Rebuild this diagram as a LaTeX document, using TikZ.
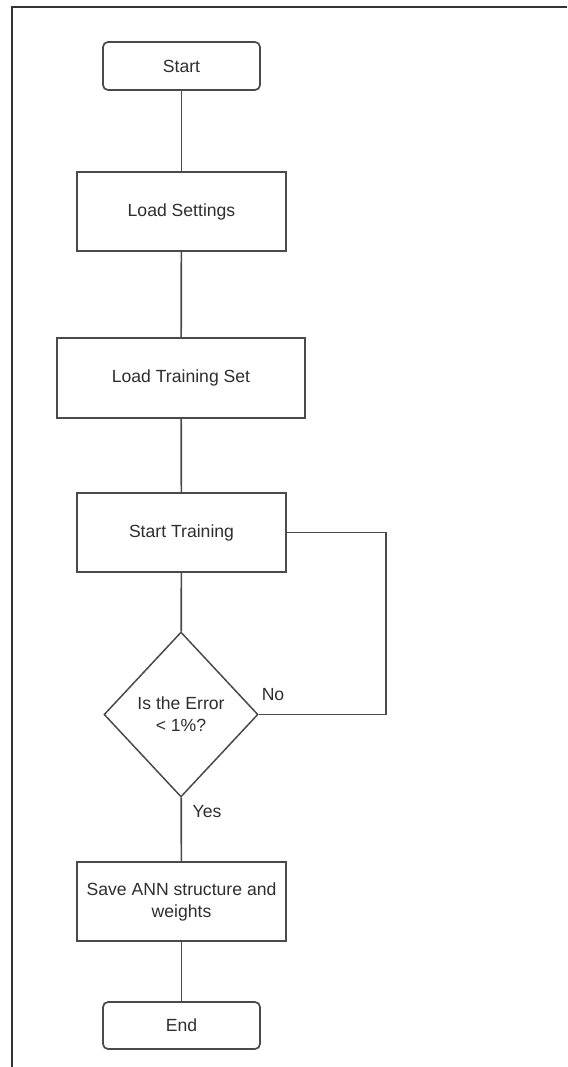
\documentclass[tikz,border=0pt]{standalone}
\usepackage{fontspec}
\setmainfont{Liberation Sans}
\usetikzlibrary{shapes.geometric}
\definecolor{lnc}{HTML}{4A4A4A}
\definecolor{txc}{HTML}{2E2E2E}
\begin{document}
\begin{tikzpicture}[x=1pt,y=-1pt,
  every node/.style={font=\fontsize{17.6}{22}\selectfont, text=txc},
  terminal/.style={draw=lnc, line width=1.7pt, rounded corners=5pt, minimum width=157pt, minimum height=48pt, inner sep=0pt},
  procbox/.style={draw=lnc, line width=1.7pt, minimum width=209pt, minimum height=79pt, inner sep=0pt, align=center},
  decision/.style={draw=lnc, line width=1.5pt, diamond, minimum width=154pt, minimum height=165pt, inner sep=0pt, align=center},
  conn/.style={draw=lnc, line width=1.7pt},
  lbl/.style={inner sep=0pt}]
\useasboundingbox (0,0) rectangle (567,1067);
\draw[line width=1.6pt, draw=black!80] (12,1067) -- (12,7) -- (567,7);

\node[terminal] (start) at (181.5,66) {Start};
\node[procbox] (load) at (181.5,211.5) {Load Settings};
\node[procbox, minimum width=248pt, minimum height=80pt] (train) at (181,378) {Load Training Set};
\node[procbox] (st) at (181.5,532.5) {Start Training};
\node[decision] (dec) at (181,714.5) {Is the Error\\{<} 1\%?};
\node[procbox] (save) at (181.5,901.5) {Save ANN structure and\\weights};
\node[terminal, minimum height=47pt] (end) at (181.5,1025.5) {End};

\coordinate (c1) at (386,532.5);
\coordinate (c2) at (386,714.5);

\draw[conn] (start) -- (load);
\draw[conn] (load) -- (train);
\draw[conn] (train) -- (st);
\draw[conn] (st) -- (dec);
\draw[conn] (dec) -- (save);
\draw[conn] (save) -- (end);
\draw[conn] (st.east) -- (c1) -- (c2) -- (dec.east);

\node[lbl] (no) at (273,695) {No};
\node[lbl] (yes) at (207,812) {Yes};
\end{tikzpicture}
\end{document}
